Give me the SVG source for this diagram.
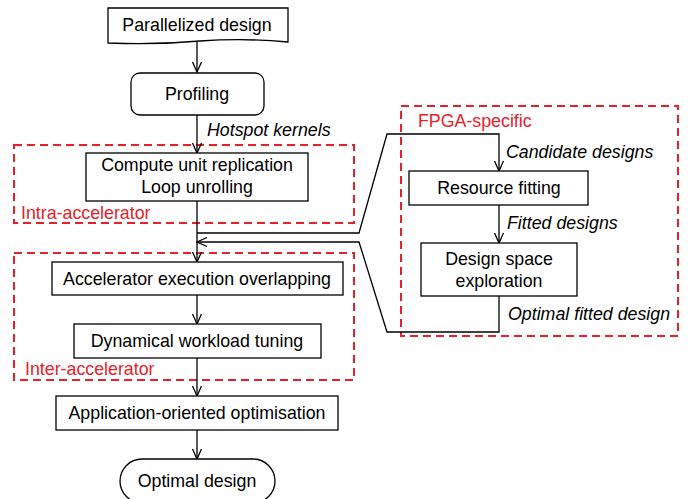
<svg xmlns="http://www.w3.org/2000/svg" width="690" height="499" viewBox="0 0 690 499">
<style>
.box{fill:#fff;stroke:#000;stroke-width:1.3}
.t{font-family:"Liberation Sans",Arial,sans-serif;font-size:17.8px;fill:#000;text-anchor:middle}
.lbl{font-family:"Liberation Sans",Arial,sans-serif;font-size:17.8px;font-style:italic;fill:#000}
.grp{fill:none;stroke:#e8202a;stroke-width:2;stroke-dasharray:8,5}
.gl{font-family:"Liberation Sans",Arial,sans-serif;font-size:17.8px;fill:#e8202a}
.c{fill:none;stroke:#000;stroke-width:1.3}
</style>
<defs>
<marker id="ah" viewBox="0 0 12 12" refX="11" refY="6" markerWidth="12" markerHeight="12" markerUnits="userSpaceOnUse" orient="auto">
<path d="M1,1.5 L11,6 L1,10.5" fill="none" stroke="#000" stroke-width="1.3"/>
</marker>
</defs>
<g id="groups">
<rect class="grp" x="14" y="145" width="340" height="78"/>
<text class="gl" x="21" y="219">Intra-accelerator</text>
<rect class="grp" x="14" y="253" width="340" height="127"/>
<text class="gl" x="25" y="375">Inter-accelerator</text>
<rect class="grp" x="401" y="106" width="277" height="230"/>
<text class="gl" x="418" y="127">FPGA-specific</text>
</g>
<g id="connectors">
<line class="c" x1="197" y1="42" x2="197" y2="72" marker-end="url(#ah)"/>
<line class="c" x1="197" y1="115" x2="197" y2="153" marker-end="url(#ah)"/>
<text class="lbl" x="207" y="136">Hotspot kernels</text>
<line class="c" x1="197" y1="201" x2="197" y2="262" marker-end="url(#ah)"/>
<polyline class="c" points="197,233 359,233 387,134 499,134 499,171" marker-end="url(#ah)"/>
<text class="lbl" x="506" y="158">Candidate designs</text>
<line class="c" x1="499" y1="205" x2="499" y2="243" marker-end="url(#ah)"/>
<text class="lbl" x="507" y="229">Fitted designs</text>
<polyline class="c" points="499,296 499,332 387,332 359,242 197,242" marker-end="url(#ah)"/>
<text class="lbl" x="508" y="320">Optimal fitted design</text>
<line class="c" x1="197" y1="295" x2="197" y2="324" marker-end="url(#ah)"/>
<line class="c" x1="197" y1="358" x2="197" y2="396" marker-end="url(#ah)"/>
<line class="c" x1="197" y1="430" x2="197" y2="459" marker-end="url(#ah)"/>
</g>
<g id="parallelized">
<path class="box" d="M108,8 H288 V42 Q245,38 200,41 Q155,45 108,43 Z"/>
<text class="t" x="197" y="31">Parallelized design</text>
</g>
<g id="profiling">
<rect class="box" x="131" y="73" width="133" height="42" rx="9"/>
<text class="t" x="197" y="100">Profiling</text>
</g>
<g id="compute">
<rect class="box" x="86" y="153" width="222" height="48"/>
<text class="t" x="197" y="171">Compute unit replication</text>
<text class="t" x="197" y="193">Loop unrolling</text>
</g>
<g id="overlap">
<rect class="box" x="52" y="262" width="291" height="33"/>
<text class="t" x="197" y="285">Accelerator execution overlapping</text>
</g>
<g id="tuning">
<rect class="box" x="74" y="324" width="247" height="34"/>
<text class="t" x="197" y="347">Dynamical workload tuning</text>
</g>
<g id="application">
<rect class="box" x="56" y="396" width="282" height="34"/>
<text class="t" x="197" y="419">Application-oriented optimisation</text>
</g>
<g id="optimal">
<rect class="box" x="120" y="459" width="155" height="44" rx="22"/>
<text class="t" x="197" y="487">Optimal design</text>
</g>
<g id="resource">
<rect class="box" x="409" y="171" width="179" height="34"/>
<text class="t" x="499" y="194">Resource fitting</text>
</g>
<g id="dse">
<rect class="box" x="421" y="243" width="156" height="53"/>
<text class="t" x="499" y="265">Design space</text>
<text class="t" x="499" y="287">exploration</text>
</g>
</svg>
